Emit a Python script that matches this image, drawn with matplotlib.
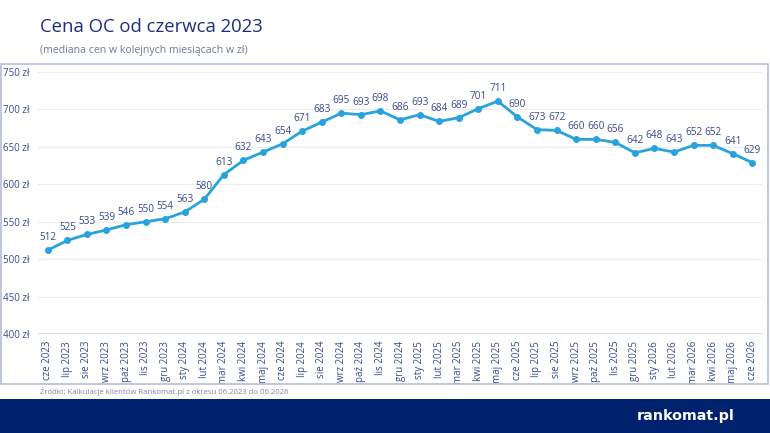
import numpy as np
import matplotlib.pyplot as plt
from matplotlib.patches import Rectangle

plt.rcParams['font.family'] = ['Open Sans', 'DejaVu Sans']

months = ["cze 2023", "lip 2023", "sie 2023", "wrz 2023", "paź 2023", "lis 2023", "gru 2023",
          "sty 2024", "lut 2024", "mar 2024", "kwi 2024", "maj 2024", "cze 2024", "lip 2024",
          "sie 2024", "wrz 2024", "paź 2024", "lis 2024", "gru 2024", "sty 2025", "lut 2025",
          "mar 2025", "kwi 2025", "maj 2025", "cze 2025", "lip 2025", "sie 2025", "wrz 2025",
          "paź 2025", "lis 2025", "gru 2025", "sty 2026", "lut 2026", "mar 2026", "kwi 2026",
          "maj 2026", "cze 2026"]
prices = [512, 525, 533, 539, 546, 550, 554, 563, 580, 613, 632, 643, 654, 671, 683, 695,
          693, 698, 686, 693, 684, 689, 701, 711, 690, 673, 672, 660, 660, 656, 642, 648,
          643, 652, 652, 641, 629]
yticks = [400, 450, 500, 550, 600, 650, 700, 750]

W, H = 770, 433
fig = plt.figure(figsize=(W / 100, H / 100), dpi=100)

navy = '#1b2f7e'
label_col = '#3a4a8c'
line_col = '#29a3dc'

# ramka wykresu
fig.patches.append(Rectangle((1 / W, 1 - 384 / H), 767 / W, 320 / H, transform=fig.transFigure,
                             fill=False, edgecolor='#b4bedc', linewidth=1.2))
# stopka
fig.patches.append(Rectangle((0, 0), 1, 34 / H, transform=fig.transFigure,
                             facecolor='#00226e', edgecolor='none'))

fig.text(40 / W, 1 - 27 / H, "Cena OC od czerwca 2023", fontsize=13.3, color=navy, va='center')
fig.text(40 / W, 1 - 50 / H, "(mediana cen w kolejnych miesiącach w zł)", fontsize=7.6,
         color='#6f7a9a', va='center')
fig.text(40 / W, 1 - 391 / H, "Źródło: Kalkulacje klientów Rankomat.pl z okresu 06.2023 do 06.2026",
         fontsize=5.6, color='#7f869c', va='center')
fig.text(735 / W, 1 - 416 / H, "rankomat.pl", fontsize=10.3, fontweight='bold', color='white',
         ha='right', va='center', family=['DejaVu Sans'])

ax = fig.add_axes([38 / W, 1 - 334 / H, 724 / W, 262 / H])
x = np.arange(len(prices))
ax.plot(x, prices, color=line_col, linewidth=2, marker='o', markersize=4, zorder=3)
for xi, v in zip(x, prices):
    ax.annotate(str(v), (xi, v), xytext=(0, 5), textcoords='offset points', ha='center',
                va='bottom', fontsize=7.2, color=label_col)

ax.set_xlim(-0.5, len(prices) - 0.5)
ax.set_ylim(400, 750)
ax.set_yticks(yticks)
ax.set_yticklabels([f"{t} zł" for t in yticks])
for lab in ax.get_yticklabels():
    lab.set_ha('left')
ax.tick_params(axis='y', length=0, pad=25, labelsize=7, labelcolor=label_col)
ax.set_xticks(x)
ax.set_xticklabels(months, rotation=90)
ax.tick_params(axis='x', length=0, pad=5, labelsize=7, labelcolor=label_col)
ax.grid(axis='y', color='#ececec', linewidth=0.8)
ax.axhline(400, color='#c8d2f0', linewidth=1.2)
for s in ax.spines.values():
    s.set_visible(False)

fig.savefig('out.png', dpi=100)
